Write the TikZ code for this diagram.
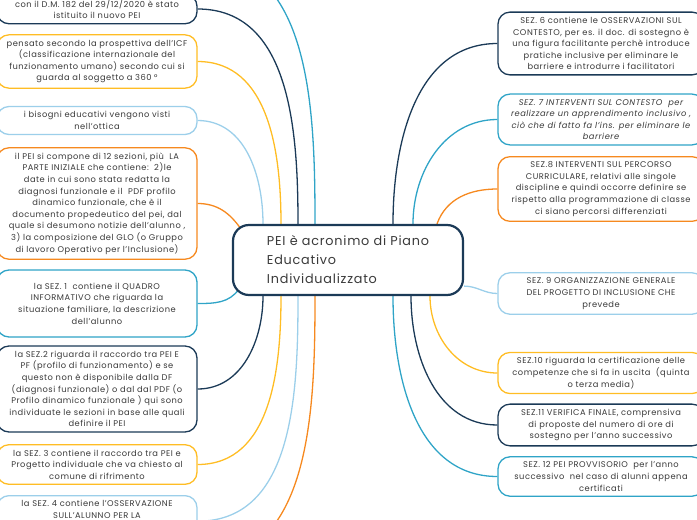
\documentclass[tikz,border=0pt]{standalone}
\usepackage{fontspec}
\setmainfont{Poppins}[LetterSpace=6]
\usetikzlibrary{backgrounds}

\definecolor{blunotte}{HTML}{1B3A57}
\definecolor{giallo}{HTML}{FFBD24}
\definecolor{azzurro}{HTML}{9CCFEA}
\definecolor{arancio}{HTML}{F6891F}
\definecolor{ciano}{HTML}{2FA4C7}
\definecolor{testo}{HTML}{3A3A3A}

\begin{document}
\begin{tikzpicture}[x=1pt,y=-1pt,
    sez/.style={draw=#1,line width=1.3pt,rounded corners=12pt,fill=white,
      align=center,text=testo,font=\fontsize{8.3}{11.6}\selectfont,
      inner ysep=5pt},
    sx/.style={sez=#1,minimum width=200pt},
    dx/.style={sez=#1,minimum width=206pt},
    ramo/.style={draw=#1,line width=1.3pt}]
  \useasboundingbox (0,0) rectangle (697,520);
  \clip (0,0) rectangle (697,520);

  % nodo centrale
  \node[draw=blunotte,line width=2.2pt,rounded corners=16pt,fill=white,
    minimum width=230pt,minimum height=70pt,align=left,
    text=testo,font=\fontsize{12.8}{19}\selectfont] (pei) at (348,260)
    {PEI è acronimo di Piano\\Educativo\\Individualizzato};

  % colonna di sinistra
  \path
  (97,9) node[sx=blunotte](dm) {con il D.M. 182 del 29/12/2020 è stato\\istituito il nuovo PEI}
  (97,61.5) node[sx=giallo](icf) {pensato secondo la prospettiva dell'ICF\\(classificazione internazionale del\\funzionamento umano) secondo cui si\\guarda al soggetto a 360 °}
  (97,120.5) node[sx=azzurro](bisogni) {i bisogni educativi vengono visti\\nell'ottica}
  (97,203.5) node[sx=arancio](iniziale) {il PEI si compone di 12 sezioni, più\ \ LA\\PARTE INIZIALE che contiene:\ \ 2)le\\date in cui sono stata redatta la\\diagnosi funzionale e il\ \ PDF profilo\\dinamico funzionale, che è il\\documento propedeutico del pei, dal\\quale si desumono notizie dell'alunno ,\\3) la composizione del GLO (o Gruppo\\di lavoro Operativo per l'Inclusione)}
  (97,303.5) node[sx=ciano,minimum height=67pt](sez1) {la SEZ. 1\ \ contiene il QUADRO\\INFORMATIVO che riguarda la\\situazione familiare, la descrizione\\dell'alunno}
  (97,389) node[sx=blunotte](sez2) {la SEZ.2 riguarda il raccordo tra PEI E\\PF (profilo di funzionamento) e se\\questo non è disponibile dalla DF\\(diagnosi funzionale) o dal dal PDF (o\\Profilo dinamico funzionale ) qui sono\\individuate le sezioni in base alle quali\\definire il PEI}
  (97,464.5) node[sx=giallo](sez3) {la SEZ. 3 contiene il raccordo tra PEI e\\Progetto individuale che va chiesto al\\comune di rifrimento}
  (97,495) node[sx=azzurro,anchor=north](sez4) {la SEZ. 4 contiene l'OSSERVAZIONE\\SULL'ALUNNO PER LA\\\mbox{}\\\mbox{}};

  % colonna di destra
  \path
  (601,43.5) node[dx=blunotte](sez6) {SEZ. 6 contiene le OSSERVAZIONI SUL\\CONTESTO, per es. il doc. di sostegno è\\una figura facilitante perchè introduce\\pratiche inclusive per eliminare le\\barriere e introdurre i facilitatori}
  (601,119.5) node[dx=ciano,font=\fontsize{8.3}{11.6}\selectfont\itshape](sez7) {SEZ. 7 INTERVENTI SUL CONTESTO\ \ per\\realizzare un apprendimento inclusivo ,\\ciò che di fatto fa l'ins. per eliminare le\\barriere}
  (601,189) node[dx=arancio](sez8) {SEZ.8 INTERVENTI SUL PERCORSO\\CURRICULARE, relativi alle singole\\discipline e quindi occorre definire se\\rispetto alla programmazione di classe\\ci siano percorsi differenziati}
  (601,293.5) node[dx=azzurro](sez9) {SEZ. 9 ORGANIZZAZIONE GENERALE\\DEL PROGETTO DI INCLUSIONE CHE\\prevede}
  (601,373) node[dx=giallo](sez10) {SEZ.10 riguarda la certificazione delle\\competenze che si fa in uscita\ \ (quinta\\o terza media)}
  (601,425) node[dx=blunotte](sez11) {SEZ.11 VERIFICA FINALE, comprensiva\\di proposte del numero di ore di\\sostegno per l'anno successivo}
  (601,476.5) node[dx=ciano](sez12) {SEZ. 12 PEI PROVVISORIO\ \ per l'anno\\successivo\ \ nel caso di alunni appena\\certificati};

  % rami fuori quadro
  \coordinate (sopra) at (198,-42);
  \coordinate (sotto) at (198,562);

  \begin{scope}[on background layer]
  \draw[ramo=ciano] (sopra) to[out=0,in=90] ([xshift=-33pt]pei.north);
  \draw[ramo=blunotte] (dm.east) to[out=0,in=90] ([xshift=-50pt]pei.north);
  \draw[ramo=giallo] (icf.east) to[out=0,in=90] ([xshift=-67pt]pei.north);
  \draw[ramo=azzurro] (bisogni.east) to[out=0,in=90] ([xshift=-85pt]pei.north);
  \draw[ramo=arancio] (iniziale.east) to[out=0,in=125] ([shift={(9pt,-5pt)}]pei.north west);
  \draw[ramo=ciano] (sez1.east) to[out=0,in=-125] ([shift={(7pt,7pt)}]pei.south west);
  \draw[ramo=blunotte] (sez2.east) to[out=0,in=-90] ([xshift=-85pt]pei.south);
  \draw[ramo=giallo] (sez3.east) to[out=0,in=-90] ([xshift=-67pt]pei.south);
  \draw[ramo=azzurro] (sez4.east) to[out=0,in=-90] ([xshift=-50pt]pei.south);
  \draw[ramo=arancio] (sotto) to[out=0,in=-90] ([xshift=-33pt]pei.south);

  \draw[ramo=blunotte] ([xshift=45pt]pei.north) to[out=90,in=180] (sez6.west);
  \draw[ramo=ciano] ([xshift=65pt]pei.north) to[out=90,in=180] (sez7.west);
  \draw[ramo=arancio] ([xshift=89pt]pei.north) to[out=70,in=180] (sez8.west);
  \draw[ramo=azzurro] ([yshift=10pt]pei.south east) to[out=0,in=180] (sez9.west);
  \draw[ramo=giallo] ([xshift=82pt]pei.south) to[out=-90,in=180] (sez10.west);
  \draw[ramo=blunotte] ([xshift=63pt]pei.south) to[out=-90,in=180] (sez11.west);
  \draw[ramo=ciano] ([xshift=45pt]pei.south) to[out=-90,in=180] (sez12.west);
  \end{scope}
\end{tikzpicture}
\end{document}
